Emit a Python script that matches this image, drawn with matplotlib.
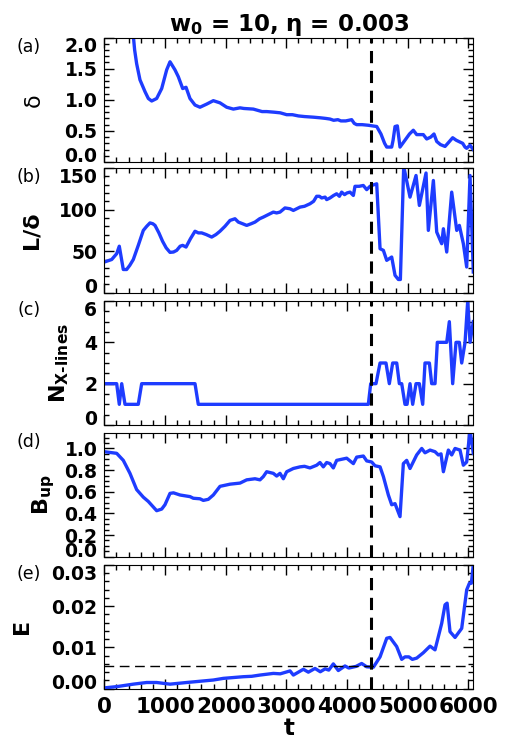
import matplotlib
matplotlib.use('Agg')
import matplotlib.pyplot as plt
import numpy as np
from matplotlib.ticker import MultipleLocator, FormatStrFormatter

plt.rcParams['font.family'] = ['DejaVu Sans']
plt.rcParams['font.weight'] = 'bold'
plt.rcParams['axes.labelweight'] = 'bold'
plt.rcParams['axes.titleweight'] = 'bold'
plt.rcParams['mathtext.fontset'] = 'custom'
plt.rcParams['mathtext.rm'] = 'DejaVu Sans:bold'
plt.rcParams['mathtext.it'] = 'DejaVu Sans:bold'
plt.rcParams['mathtext.bf'] = 'DejaVu Sans:bold'

# (a) current sheet thickness
t_delta = [430, 481, 500, 533, 588, 671, 726, 781, 863, 946, 1028, 1083, 1165, 1220, 1292,
           1347, 1412, 1495, 1577, 1687, 1797, 1907, 2017, 2127, 2237, 2300, 2456, 2600,
           2677, 2800, 2900, 3006, 3100, 3200, 3300, 3445, 3560, 3650, 3720, 3780, 3850,
           3900, 3980, 4077, 4120, 4160, 4250, 4352, 4420, 4490, 4560, 4620, 4655, 4737,
           4760, 4792, 4830, 4874, 4956, 5030, 5093, 5149, 5258, 5314, 5380, 5434, 5479,
           5540, 5616, 5680, 5742, 5800, 5863, 5907, 5945, 5973, 6028, 6082]
delta = [2.5, 2.0, 1.80, 1.58, 1.32, 1.13, 1.02, 0.98, 1.02, 1.18, 1.48, 1.61, 1.48, 1.37,
         1.18, 1.20, 1.02, 0.915, 0.88, 0.93, 0.985, 0.95, 0.88, 0.85, 0.87, 0.86, 0.85,
         0.81, 0.81, 0.80, 0.79, 0.76, 0.76, 0.74, 0.73, 0.72, 0.71, 0.70, 0.69, 0.67,
         0.68, 0.66, 0.66, 0.68, 0.62, 0.60, 0.60, 0.59, 0.58, 0.57, 0.45, 0.30, 0.24,
         0.24, 0.35, 0.57, 0.58, 0.24, 0.35, 0.45, 0.51, 0.44, 0.44, 0.37, 0.40, 0.45,
         0.33, 0.28, 0.25, 0.32, 0.39, 0.35, 0.32, 0.30, 0.24, 0.22, 0.27, 0.20]

# (b) aspect ratio
t_ratio = [0, 122, 204, 247, 313, 368, 420, 478, 560, 643, 700, 753, 800, 836, 900, 960,
           1020, 1083, 1140, 1193, 1250, 1292, 1347, 1420, 1495, 1550, 1605, 1680, 1770,
           1840, 1907, 1990, 2072, 2154, 2209, 2280, 2347, 2420, 2484, 2560, 2621, 2703,
           2786, 2840, 2896, 2978, 3061, 3116, 3226, 3300, 3390, 3450, 3500, 3545, 3583,
           3640, 3665, 3720, 3780, 3830, 3875, 3912, 3960, 4000, 4050, 4105, 4132, 4200,
           4269, 4325, 4380, 4407, 4490, 4545, 4600, 4655, 4737, 4792, 4847, 4880, 4935,
           5039, 5138, 5193, 5303, 5341, 5424, 5479, 5561, 5589, 5644, 5726, 5809, 5852,
           5918, 5973, 6028, 6082]
ratio = [37, 40, 47, 56, 28, 28, 33, 40, 57, 75, 80, 84, 83, 81, 72, 62,
         54, 48.6, 49, 51, 56, 57, 55, 65, 74, 72, 72, 70, 67,
         70, 74, 80, 87, 89, 85, 83, 81, 83, 85, 89, 91, 94,
         97, 96, 97, 102, 101, 99, 103, 104, 107, 110, 116, 116, 114,
         115, 112, 114, 117, 119, 116, 121, 118, 120, 121, 117, 128, 128,
         129, 124, 128, 129, 131, 53, 51, 39, 43, 21, 16, 16, 152,
         115, 141, 105, 144, 75, 135, 73, 59, 77, 49, 121, 75, 81,
         59, 31, 141, 25]

# (c) number of X-lines
t_nx = [0, 204, 247, 287, 341, 560, 616, 1495, 1549, 4352, 4391, 4478, 4545, 4643, 4698,
        4753, 4820, 4863, 4902, 4956, 4990, 5039, 5083, 5138, 5193, 5248, 5286, 5358,
        5396, 5451, 5489, 5644, 5687, 5742, 5797, 5852, 5891, 5946, 5990, 6028, 6082]
nx = [2, 2, 1, 2, 1, 1, 2, 2, 1, 1, 2, 2, 3, 3, 2,
      3, 3, 2, 2, 1, 1, 2, 1, 2, 2, 1, 3, 3,
      2, 2, 4, 4, 5, 2, 4, 4, 3, 4, 6, 4, 5]

# (d) upstream field
t_bup = [0, 204, 313, 423, 533, 643, 726, 863, 946, 1000, 1083, 1140, 1248, 1413, 1467,
         1577, 1632, 1714, 1797, 1907, 1990, 2072, 2237, 2347, 2484, 2566, 2621, 2676,
         2786, 2841, 2896, 2951, 3006, 3116, 3226, 3300, 3390, 3500, 3555, 3610, 3665,
         3720, 3775, 3830, 3912, 3995, 4105, 4160, 4270, 4325, 4407, 4462, 4545, 4600,
         4682, 4737, 4792, 4874, 4929, 4984, 5039, 5149, 5232, 5286, 5369, 5451, 5506,
         5550, 5589, 5671, 5726, 5781, 5863, 5918, 5973, 6028, 6082]
bup = [0.97, 0.955, 0.89, 0.77, 0.62, 0.55, 0.51, 0.425, 0.44, 0.48, 0.585, 0.59, 0.57,
       0.555, 0.54, 0.535, 0.52, 0.53, 0.57, 0.65, 0.66, 0.67, 0.68, 0.71, 0.72, 0.71,
       0.74, 0.785, 0.77, 0.745, 0.77, 0.72, 0.785, 0.815, 0.83, 0.835, 0.82, 0.845,
       0.87, 0.83, 0.87, 0.86, 0.82, 0.89, 0.90, 0.91, 0.86, 0.92, 0.93, 0.885, 0.875,
       0.84, 0.83, 0.74, 0.57, 0.48, 0.49, 0.37, 0.86, 0.89, 0.815, 0.94, 1.0, 0.96,
       0.985, 0.97, 0.94, 0.95, 0.785, 0.985, 0.94, 1.0, 0.985, 0.845, 0.875, 1.17, 0.955]

# (e) reconnection rate
t_rate = [0, 204, 478, 698, 863, 1083, 1358, 1577, 1797, 1962, 2127, 2291, 2430, 2566,
          2786, 2900, 3061, 3116, 3281, 3363, 3473, 3560, 3640, 3700, 3775, 3857, 3967,
          4030, 4150, 4242, 4325, 4435, 4545, 4655, 4709, 4819, 4902, 4956, 5020, 5077,
          5149, 5258, 5369, 5451, 5561, 5616, 5650, 5698, 5781, 5891, 5973, 6017, 6050,
          6082]
rate = [0.0002, 0.0005, 0.0011, 0.0015, 0.0015, 0.0011, 0.0015, 0.0018, 0.0021, 0.0025,
        0.0027, 0.0029, 0.0030, 0.0033, 0.0037, 0.0036, 0.0043, 0.0033, 0.0047, 0.0040,
        0.0049, 0.0041, 0.0048, 0.0045, 0.0060, 0.0044, 0.0055, 0.0050, 0.0054, 0.0061,
        0.0053, 0.0052, 0.0077, 0.0122, 0.0124, 0.0102, 0.0071, 0.0077, 0.0077, 0.0071,
        0.0074, 0.0087, 0.0103, 0.0094, 0.0158, 0.0203, 0.0207, 0.0138, 0.0124, 0.0146,
        0.0239, 0.0255, 0.0255, 0.030]

t_onset = 4390
rate_level = 0.0055
blue = '#1e3cff'

panels = [
    (t_delta, delta, (0, 2.0), 0.5, 0.1, '%.1f', 'δ', -0.165, '(a)'),
    (t_ratio, ratio, (0, 150), 50, 10, '%d', 'L/δ', -0.17, '(b)'),
    (t_nx, nx, (0, 6), 2, 0.5, '%d', r'N$_{X\text{-}lines}$', -0.09, '(c)'),
    (t_bup, bup, (0, 1.14), 0.2, 0.05, '%.1f', r'B$_{up}$', -0.128, '(d)'),
    (t_rate, rate, (0, 0.03), 0.01, 0.002, '%.2f', 'E', -0.195, '(e)'),
]

# axes boxes in pixels (top, bottom) of the 506x747 figure
tops = [37.5, 168, 301, 433.3, 564.7]
bottoms = [162, 292.8, 425, 556.7, 688.7]
left, right = 104.3, 473.3

fig = plt.figure(figsize=(5.06, 7.47), dpi=100)

for n, (tt, yy, ylim, major, minor, fmt, ylabel, lab_x, tag) in enumerate(panels):
    ax = fig.add_axes([left / 506, 1 - bottoms[n] / 747,
                       (right - left) / 506, (bottoms[n] - tops[n]) / 747])
    ax.plot(tt, yy, color=blue, linewidth=2.4)
    ax.axvline(t_onset, color='black', linewidth=2.2, dashes=(4, 2.5))
    if n == 4:
        ax.axhline(rate_level, color='black', linewidth=1.0, dashes=(7, 4))
    ax.set_xlim(0, 6082)
    ax.set_ylim(*ylim)
    ax.xaxis.set_major_locator(MultipleLocator(1000))
    ax.xaxis.set_minor_locator(MultipleLocator(200))
    yticks = np.arange(0, ylim[1] + 1e-9, major)
    ax.set_yticks(yticks)
    ax.yaxis.set_minor_locator(MultipleLocator(minor))
    ax.yaxis.set_major_formatter(FormatStrFormatter(fmt))
    ax.tick_params(which='both', direction='in', top=True, right=True, width=1)
    ax.tick_params(which='major', length=7)
    ax.tick_params(which='minor', length=3.5)
    ax.tick_params(axis='y', labelsize=13.5, pad=5)
    ax.tick_params(axis='x', labelsize=15.5, pad=6)
    # keep end labels inside the box, as in the original
    ticks = ax.yaxis.get_major_ticks()
    ticks[0].label1.set_verticalalignment('baseline')
    if abs(yticks[-1] - ylim[1]) < 1e-9:
        ticks[-1].label1.set_verticalalignment('top')
    if n < 4:
        ax.set_xticklabels([])
    else:
        ax.set_xlabel('t', fontsize=16.5, labelpad=0)
    if n == 0:
        ax.set_ylabel(ylabel, fontsize=16, fontweight='normal')
    else:
        ax.set_ylabel(ylabel, fontsize=16)
    ax.yaxis.set_label_coords(lab_x, 0.5)
    fig.text(29 / 506, 1 - (tops[n] + 9) / 747, tag, fontsize=12.5,
             fontweight='normal', ha='center', va='center')
    if n == 0:
        ax.set_title(r'w$_0$ = 10, η = 0.003', fontsize=16.5, pad=5)

fig.savefig('out.png', dpi=100)
